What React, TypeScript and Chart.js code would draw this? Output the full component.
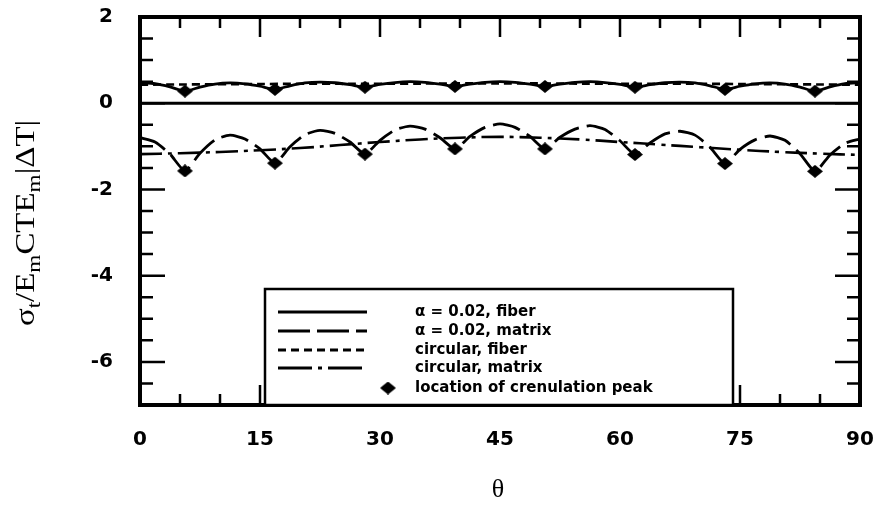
import React, { useEffect, useRef } from 'react';
import { Chart, registerables } from 'chart.js';

Chart.register(...registerables);

// theta grid (degrees)
const theta = [
  0, 1.875, 3.75, 5.625, 7.5, 9.375, 11.25, 13.125, 15, 16.875,
  18.75, 20.625, 22.5, 24.375, 26.25, 28.125, 30, 31.875, 33.75, 35.625,
  37.5, 39.375, 41.25, 43.125, 45, 46.875, 48.75, 50.625, 52.5, 54.375,
  56.25, 58.125, 60, 61.875, 63.75, 65.625, 67.5, 69.375, 71.25, 73.125,
  75, 76.875, 78.75, 80.625, 82.5, 84.375, 86.25, 88.125, 90,
];

// alpha = 0.02, fiber
const alphaFiber = [
  0.48, 0.455, 0.38, 0.28, 0.375, 0.445, 0.47, 0.45, 0.395, 0.32,
  0.405, 0.47, 0.49, 0.475, 0.43, 0.37, 0.435, 0.48, 0.5, 0.485,
  0.445, 0.39, 0.445, 0.485, 0.5, 0.485, 0.445, 0.39, 0.445, 0.485,
  0.5, 0.48, 0.435, 0.37, 0.43, 0.475, 0.49, 0.47, 0.405, 0.32,
  0.395, 0.45, 0.47, 0.445, 0.375, 0.28, 0.38, 0.455, 0.48,
];

// alpha = 0.02, matrix
const alphaMatrix = [
  -0.8, -0.9, -1.18, -1.57, -1.16, -0.85, -0.74, -0.83, -1.06, -1.39,
  -1.01, -0.73, -0.63, -0.7, -0.9, -1.18, -0.86, -0.62, -0.53, -0.6,
  -0.8, -1.06, -0.77, -0.56, -0.48, -0.56, -0.77, -1.06, -0.79, -0.6,
  -0.52, -0.61, -0.87, -1.19, -0.92, -0.71, -0.65, -0.74, -1.02, -1.4,
  -1.07, -0.85, -0.76, -0.86, -1.17, -1.58, -1.2, -0.93, -0.83,
];

// circular, fiber
const circFiberTheta = [0, 10, 20, 30, 40, 50, 60, 70, 80, 90];
const circFiber = [0.43, 0.44, 0.45, 0.45, 0.46, 0.46, 0.45, 0.45, 0.44, 0.43];

// circular, matrix
const circMatrixTheta = [0, 5, 10, 15, 20, 25, 30, 35, 40, 45, 50, 55, 60, 65, 70, 75, 80, 85, 90];
const circMatrix = [
  -1.18, -1.16, -1.13, -1.09, -1.04, -0.97, -0.9, -0.84, -0.8, -0.78,
  -0.8, -0.84, -0.9, -0.96, -1.02, -1.08, -1.13, -1.17, -1.2,
];

// crenulation peak locations
const peakTheta = [5.625, 16.875, 28.125, 39.375, 50.625, 61.875, 73.125, 84.375];
const peakFiber = [0.28, 0.32, 0.37, 0.39, 0.39, 0.37, 0.32, 0.28];
const peakMatrix = [-1.57, -1.39, -1.18, -1.06, -1.06, -1.19, -1.4, -1.58];

const xTicks = [0, 15, 30, 45, 60, 75, 90];
const yTicks = [-6, -4, -2, 0, 2];

const legendLabels = [
  'α = 0.02, fiber',
  'α = 0.02, matrix',
  'circular, fiber',
  'circular, matrix',
  'location of crenulation peak',
];

const DASH_ALPHA_MATRIX = [28, 8];
const DASH_CIRC_FIBER = [8, 5];
const DASH_CIRC_MATRIX = [22, 6, 4, 6];
const LEGEND_DASHES = [[], [32, 7], [8, 5], [34, 6, 4, 6]];

function makeDiamond(w: number, h: number) {
  const c = document.createElement('canvas');
  c.width = w;
  c.height = h;
  const g = c.getContext('2d')!;
  g.fillStyle = '#000';
  g.beginPath();
  g.moveTo(w / 2, 0);
  g.lineTo(w, h / 2);
  g.lineTo(w / 2, h);
  g.lineTo(0, h / 2);
  g.closePath();
  g.fill();
  return c;
}

const zeroPad = (s: any) => {
  s.paddingLeft = 0;
  s.paddingRight = 0;
  s.paddingTop = 0;
  s.paddingBottom = 0;
};

const framePlugin = {
  id: 'framePlugin',
  beforeDatasetsDraw(chart: any) {
    const { ctx, chartArea: a, scales } = chart;
    const y0 = scales.y.getPixelForValue(0);
    ctx.save();
    ctx.strokeStyle = '#000';
    ctx.lineWidth = 3;
    ctx.beginPath();
    ctx.moveTo(a.left, y0);
    ctx.lineTo(a.right, y0);
    ctx.stroke();
    ctx.restore();
  },
  afterDatasetsDraw(chart: any) {
    const { ctx, chartArea: a, scales } = chart;
    const xs = scales.x;
    const ys = scales.y;
    ctx.save();
    ctx.strokeStyle = '#000';
    ctx.lineWidth = 2.5;
    ctx.beginPath();
    for (let v = 5; v < 90; v += 5) {
      const px = xs.getPixelForValue(v);
      const len = v % 15 === 0 ? 20 : 11;
      ctx.moveTo(px, a.top);
      ctx.lineTo(px, a.top + len);
      ctx.moveTo(px, a.bottom);
      ctx.lineTo(px, a.bottom - len);
    }
    for (let v = -6.5; v < 2; v += 0.5) {
      const py = ys.getPixelForValue(v);
      const len = Math.abs(v % 2) < 1e-9 ? 25 : 13;
      ctx.moveTo(a.left, py);
      ctx.lineTo(a.left + len, py);
      ctx.moveTo(a.right, py);
      ctx.lineTo(a.right - len, py);
    }
    ctx.stroke();
    ctx.lineWidth = 4;
    ctx.strokeRect(a.left, a.top, a.right - a.left, a.bottom - a.top);
    ctx.restore();
  },
  afterDraw(chart: any) {
    const { ctx } = chart;
    const diamond = chart.options.plugins.framePlugin.diamond;
    ctx.save();
    // legend box
    const bx = 265, by = 289, bw = 468, bh = 116;
    ctx.fillStyle = '#fff';
    ctx.fillRect(bx, by, bw, bh);
    ctx.strokeStyle = '#000';
    ctx.lineWidth = 2.5;
    ctx.strokeRect(bx, by, bw, bh);
    const rows = [312, 331, 350, 368, 388];
    ctx.lineWidth = 2.8;
    for (let i = 0; i < 4; i++) {
      ctx.setLineDash(LEGEND_DASHES[i]);
      ctx.beginPath();
      ctx.moveTo(278, rows[i]);
      ctx.lineTo(367, rows[i]);
      ctx.stroke();
    }
    ctx.setLineDash([]);
    if (diamond) ctx.drawImage(diamond, 388 - diamond.width / 2, rows[4] - diamond.height / 2);
    ctx.fillStyle = '#000';
    ctx.font = 'bold 15px "DejaVu Sans"';
    ctx.textBaseline = 'middle';
    ctx.textAlign = 'left';
    legendLabels.forEach((t, i) => ctx.fillText(t, 415, rows[i]));

    // x title
    ctx.font = '26px "Liberation Serif"';
    ctx.textAlign = 'center';
    ctx.textBaseline = 'middle';
    ctx.fillText('θ', 498, 490);

    // y title with subscripts
    const parts: [string, boolean][] = [
      ['σ', false], ['t', true], ['/E', false], ['m', true],
      ['CTE', false], ['m', true], ['|ΔT|', false],
    ];
    const mainFont = '27px "Liberation Serif"';
    const subFont = '19px "Liberation Serif"';
    let total = 0;
    const widths = parts.map(([s, sub]) => {
      ctx.font = sub ? subFont : mainFont;
      const w = ctx.measureText(s).width;
      total += w;
      return w;
    });
    ctx.translate(34, 223);
    ctx.rotate(-Math.PI / 2);
    ctx.scale(1.22, 1);
    ctx.textAlign = 'left';
    ctx.textBaseline = 'alphabetic';
    let cx = -total / 2;
    parts.forEach(([s, sub], i) => {
      ctx.font = sub ? subFont : mainFont;
      ctx.fillText(s, cx, sub ? 6 : 0);
      cx += widths[i];
    });
    ctx.restore();
  },
};

export default function App() {
  const ref = useRef<HTMLCanvasElement | null>(null);
  useEffect(() => {
    if (!ref.current) return;
    const diamond = makeDiamond(16, 13);
    const pts = (xs: number[], ys: number[]) => xs.map((x, i) => ({ x, y: ys[i] }));
    const chart = new Chart(ref.current, {
      type: 'line',
      data: {
        datasets: [
          {
            label: 'location of crenulation peak',
            data: [...pts(peakTheta, peakFiber), ...pts(peakTheta, peakMatrix)],
            showLine: false,
            pointStyle: diamond,
            pointRadius: 7,
            borderColor: '#000',
            backgroundColor: '#000',
          },
          {
            label: 'α = 0.02, fiber',
            data: pts(theta, alphaFiber),
            borderColor: '#000',
            borderWidth: 2.8,
            pointRadius: 0,
            tension: 0.2,
          },
          {
            label: 'α = 0.02, matrix',
            data: pts(theta, alphaMatrix),
            borderColor: '#000',
            borderWidth: 2.8,
            borderDash: DASH_ALPHA_MATRIX,
            pointRadius: 0,
            tension: 0.2,
          },
          {
            label: 'circular, fiber',
            data: pts(circFiberTheta, circFiber),
            borderColor: '#000',
            borderWidth: 2.6,
            borderDash: DASH_CIRC_FIBER,
            pointRadius: 0,
            tension: 0.4,
          },
          {
            label: 'circular, matrix',
            data: pts(circMatrixTheta, circMatrix),
            borderColor: '#000',
            borderWidth: 2.6,
            borderDash: DASH_CIRC_MATRIX,
            pointRadius: 0,
            tension: 0.4,
          },
        ],
      },
      options: {
        animation: false,
        responsive: true,
        maintainAspectRatio: false,
        layout: { autoPadding: false, padding: { left: 0, right: 16, top: 17, bottom: 0 } },
        plugins: {
          legend: { display: false },
          tooltip: { enabled: false },
          framePlugin: { diamond },
        } as any,
        scales: {
          x: {
            type: 'linear',
            min: 0,
            max: 90,
            border: { display: false },
            grid: { display: false, drawTicks: false },
            afterBuildTicks: (s: any) => { s.ticks = xTicks.map((v) => ({ value: v })); },
            afterFit: (s: any) => { s.height = 101; zeroPad(s); },
            ticks: {
              color: '#000',
              padding: 23,
              maxRotation: 0,
              autoSkip: false,
              font: { family: '"DejaVu Sans"', weight: 'bold', size: 20 },
            },
          },
          y: {
            type: 'linear',
            min: -7,
            max: 2,
            border: { display: false },
            grid: { display: false, drawTicks: false },
            afterBuildTicks: (s: any) => { s.ticks = yTicks.map((v) => ({ value: v })); },
            afterFit: (s: any) => { s.width = 140; zeroPad(s); },
            ticks: {
              color: '#000',
              padding: 27,
              autoSkip: false,
              font: { family: '"DejaVu Sans"', weight: 'bold', size: 20 },
            },
          },
        },
      },
      plugins: [framePlugin],
    } as any);
    return () => chart.destroy();
  }, []);
  return (
    <div style={{ position: 'absolute', left: 0, top: 0, width: 876, height: 506, background: '#fff' }}>
      <canvas ref={ref} />
    </div>
  );
}
